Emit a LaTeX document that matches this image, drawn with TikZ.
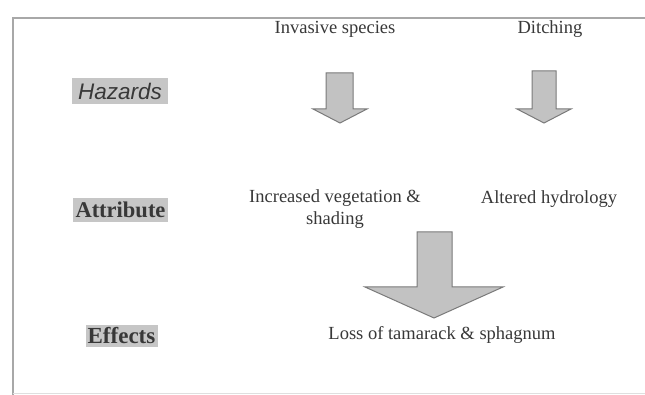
\documentclass[tikz,border=0pt]{standalone}
\usepackage{fontspec}
\setmainfont{Liberation Serif}
\newfontfamily\hazfont{Liberation Sans}
\definecolor{txt}{HTML}{383838}
\definecolor{hl}{HTML}{C6C6C6}
\definecolor{arrfill}{HTML}{C2C2C2}
\definecolor{arrline}{HTML}{7A7A7A}
\definecolor{frame}{HTML}{A8A8A8}
\begin{document}
\begin{tikzpicture}[x=1pt,y=-1pt,
  lbl/.style={text=txt,font=\fontsize{18.5}{22}\selectfont,align=center,inner sep=0pt},
  cat/.style={text=txt,fill=hl,inner sep=0pt,anchor=center},
  blockarrow/.style={fill=arrfill,draw=arrline,line width=1pt,line join=miter}]
\useasboundingbox (0,0) rectangle (645,395);
\fill[white] (0,0) rectangle (645,395);
% frame
\draw[frame,line width=2pt] (12.5,395) -- (12.5,18) -- (645,18);
\draw[gray!25,line width=1pt] (12.5,393) -- (645,393);
% category labels
\node[cat,minimum width=96pt,minimum height=26pt,font=\hazfont\itshape\fontsize{22.5}{25}\selectfont] (haz) at (120,91) {Hazards};
\node[cat,minimum width=95pt,minimum height=24pt,font=\bfseries\fontsize{22.5}{25}\selectfont] (att) at (120.5,210) {Attribute};
\node[cat,minimum width=72pt,minimum height=22pt,font=\bfseries\fontsize{23}{25}\selectfont] (eff) at (121.5,336) {Effects};
% texts
\node[lbl] (inv) at (335,29) {Invasive species};
\node[lbl] (dit) at (550,29) {Ditching};
\node[lbl] (veg) at (335,209) {Increased vegetation \&\\shading};
\node[lbl] (hyd) at (549,199) {Altered hydrology};
\node[lbl] (loss) at (442,335) {Loss of tamarack \& sphagnum};
% block arrows
\draw[blockarrow] (326,73) -- (353,73) -- (353,109) -- (367,109) -- (340,123) -- (313,109) -- (326,109) -- cycle;
\draw[blockarrow] (532,71) -- (556,71) -- (556,109) -- (571,109) -- (544,123) -- (517,109) -- (532,109) -- cycle;
\draw[blockarrow] (417,232) -- (452,232) -- (452,287) -- (503,287) -- (434,318) -- (365,287) -- (417,287) -- cycle;
\end{tikzpicture}
\end{document}
